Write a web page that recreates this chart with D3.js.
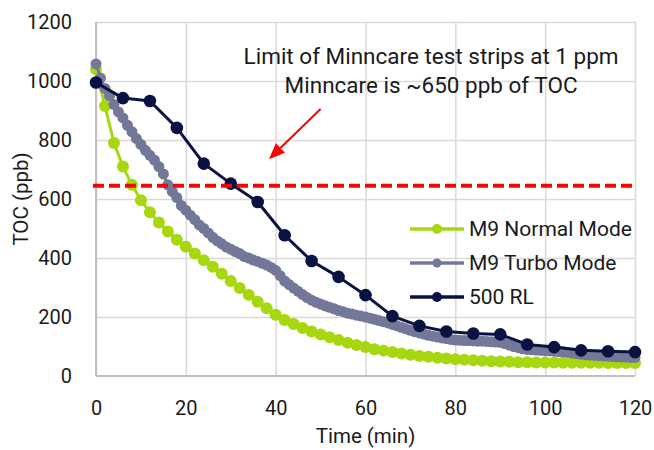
<!DOCTYPE html>
<html>
<head>
<meta charset="utf-8">
<script src="https://cdn.jsdelivr.net/npm/d3@7"></script>
<style>
  html, body { margin: 0; padding: 0; background: #fff; }
  svg { display: block; font-family: Roboto, "DejaVu Sans", sans-serif; }
</style>
</head>
<body>
<svg id="chart" width="654" height="450"></svg>
<script>
// ---------- data ----------
const xTicks = [0, 20, 40, 60, 80, 100, 120];
const yTicks = [0, 200, 400, 600, 800, 1000, 1200];

const seriesNames = ["M9 Normal Mode", "M9 Turbo Mode", "500 RL"];
const seriesColors = ["#a6d70f", "#737898", "#0a1242"];

// M9 Normal Mode: every 2 min
const normalTime = [0,2,4,6,8,10,12,14,16,18,20,22,24,26,28,30,32,34,36,38,40,42,44,46,48,50,52,54,56,58,60,
  62,64,66,68,70,72,74,76,78,80,82,84,86,88,90,92,94,96,98,100,102,104,106,108,110,112,114,116,118,120];
const normalTOC = [1040,915,790,710,648,596,555,520,490,462,438,415,392,370,347,322,298,275,252,230,208,
  190,176,163,151,141,131,122,113,105,98,91,86,81,76,72,68,65,62,59,57,55,53,52,50,49,48,47,47,46,46,
  46,45,45,45,45,45,44,44,44,44];

// M9 Turbo Mode: every 1 min
const turboTime = [0,1,2,3,4,5,6,7,8,9,10,11,12,13,14,15,16,17,18,19,20,21,22,23,24,25,26,27,28,29,30,
  31,32,33,34,35,36,37,38,39,40,41,42,43,44,45,46,47,48,49,50,51,52,53,54,55,56,57,58,59,60,
  61,62,63,64,65,66,67,68,69,70,71,72,73,74,75,76,77,78,79,80,81,82,83,84,85,86,87,88,89,90,
  91,92,93,94,95,96,97,98,99,100,101,102,103,104,105,106,107,108,109,110,111,112,113,114,115,116,117,118,119,120];
const turboTOC = [1058,1010,975,950,920,895,875,850,828,805,785,765,748,732,710,685,648,625,605,578,562,
  545,530,512,500,485,470,458,448,437,430,422,415,405,400,393,388,382,376,368,358,
  340,322,310,298,287,276,266,257,250,244,238,233,228,222,218,213,210,206,203,200,
  196,192,188,184,180,175,170,165,160,155,150,146,142,138,135,132,129,127,124,122,
  121,120,120,119,118,118,117,116,115,114,110,105,100,96,92,90,89,88,87,86,
  85,84,83,82,80,78,76,74,72,71,70,69,68,67,66,65,64,64,63,63];

// 500 RL: every 6 min
const rlTime = [0,6,12,18,24,30,36,42,48,54,60,66,72,78,84,90,96,102,108,114,120];
const rlTOC = [995,942,932,841,720,652,590,477,390,336,274,203,170,151,144,141,107,98,87,84,81];

const limitTOC = 645;
const limitSpan = [0, 120];
const annotationLines = ["Limit of Minncare test strips at 1 ppm", "Minncare is ~650 ppb of TOC"];
const xTitle = "Time (min)";
const yTitle = "TOC (ppb)";

// ---------- layout ----------
const svg = d3.select("#chart");
const pL = 96, pR = 635, pT = 22, pB = 376;
const x = d3.scaleLinear().domain([0, 120]).range([pL, pR]);
const y = d3.scaleLinear().domain([0, 1200]).range([pB, pT]);

// grid + axes
const gx = svg.append("g").attr("transform", `translate(0,${pB})`)
  .call(d3.axisBottom(x).tickValues(xTicks).tickSize(-(pB - pT)).tickPadding(25).tickFormat(d3.format("d")));
const gy = svg.append("g").attr("transform", `translate(${pL},0)`)
  .call(d3.axisLeft(y).tickValues(yTicks).tickSize(-(pR - pL)).tickPadding(24).tickFormat(d3.format("d")));
[gx, gy].forEach(g => {
  g.select(".domain").remove();
  g.selectAll(".tick line").attr("stroke", "#d9d9d9").attr("stroke-width", 1.5);
  g.selectAll(".tick text").attr("fill", "#1a1a1a").attr("font-size", 20)
    .attr("font-family", "Roboto, sans-serif");
});
// axis lines
svg.append("line").attr("x1", pL).attr("x2", pL).attr("y1", pT).attr("y2", pB)
  .attr("stroke", "#bfbfbf").attr("stroke-width", 2);
svg.append("line").attr("x1", pL).attr("x2", pR).attr("y1", pB).attr("y2", pB)
  .attr("stroke", "#bfbfbf").attr("stroke-width", 2);

// axis titles
svg.append("text").attr("x", (pL + pR) / 2).attr("y", 443).attr("text-anchor", "middle")
  .attr("font-size", 20.5).attr("fill", "#1a1a1a").text(xTitle);
svg.append("text").attr("transform", `translate(28,${(pT + pB) / 2}) rotate(-90)`)
  .attr("text-anchor", "middle").attr("font-size", 20.5).attr("fill", "#1a1a1a").text(yTitle);

// series
const series = [
  { t: normalTime, v: normalTOC, r: 6, w: 3 },
  { t: turboTime, v: turboTOC, r: 5.5, w: 3 },
  { t: rlTime, v: rlTOC, r: 6.3, w: 3 }
];
const line = d3.line().x(d => x(d[0])).y(d => y(d[1]));
series.forEach((s, i) => {
  const pts = s.t.map((t, k) => [t, s.v[k]]);
  const g = svg.append("g");
  g.append("path").attr("d", line(pts)).attr("fill", "none")
    .attr("stroke", seriesColors[i]).attr("stroke-width", s.w).attr("stroke-linejoin", "round");
  g.selectAll("circle").data(pts).join("circle")
    .attr("cx", d => x(d[0])).attr("cy", d => y(d[1])).attr("r", s.r).attr("fill", seriesColors[i]);
});

// limit line (dashed red)
svg.append("line")
  .attr("x1", x(limitSpan[0]) - 3).attr("x2", x(limitSpan[1]) - 3)
  .attr("y1", y(limitTOC)).attr("y2", y(limitTOC))
  .attr("stroke", "#ff0000").attr("stroke-width", 4).attr("stroke-dasharray", "11,5");

// annotation text
svg.append("text").attr("x", x(74.6)).attr("y", y(1058)).attr("text-anchor", "middle")
  .attr("font-size", 22.5).attr("fill", "#1a1a1a").text(annotationLines[0]);
svg.append("text").attr("x", x(74.6)).attr("y", y(958)).attr("text-anchor", "middle")
  .attr("font-size", 22.5).attr("fill", "#1a1a1a").text(annotationLines[1]);

// arrow (data units)
const a0 = [x(50), y(905)], a1 = [x(38.5), y(735)];
const adx = a1[0] - a0[0], ady = a1[1] - a0[1], alen = Math.hypot(adx, ady);
const ux = adx / alen, uy = ady / alen;
const headL = 16, headW = 6.5;
const abase = [a1[0] - ux * headL, a1[1] - uy * headL];
svg.append("line").attr("x1", a0[0]).attr("y1", a0[1]).attr("x2", abase[0]).attr("y2", abase[1])
  .attr("stroke", "#ff0000").attr("stroke-width", 2);
svg.append("path")
  .attr("d", `M${a1[0]},${a1[1]} L${abase[0] - uy * headW},${abase[1] + ux * headW} L${abase[0] + uy * headW},${abase[1] - ux * headW} Z`)
  .attr("fill", "#ff0000");

// legend
const legY = [229, 263, 297];
const legR = [5, 4.5, 5];
seriesNames.forEach((name, i) => {
  const g = svg.append("g");
  g.append("line").attr("x1", 410).attr("x2", 464).attr("y1", legY[i]).attr("y2", legY[i])
    .attr("stroke", seriesColors[i]).attr("stroke-width", 3.5);
  g.append("circle").attr("cx", 437).attr("cy", legY[i]).attr("r", legR[i]).attr("fill", seriesColors[i]);
  g.append("text").attr("x", 469).attr("y", legY[i]).attr("dy", "0.35em")
    .attr("font-size", 21).attr("fill", "#1a1a1a").text(name);
});
</script>
</body>
</html>
